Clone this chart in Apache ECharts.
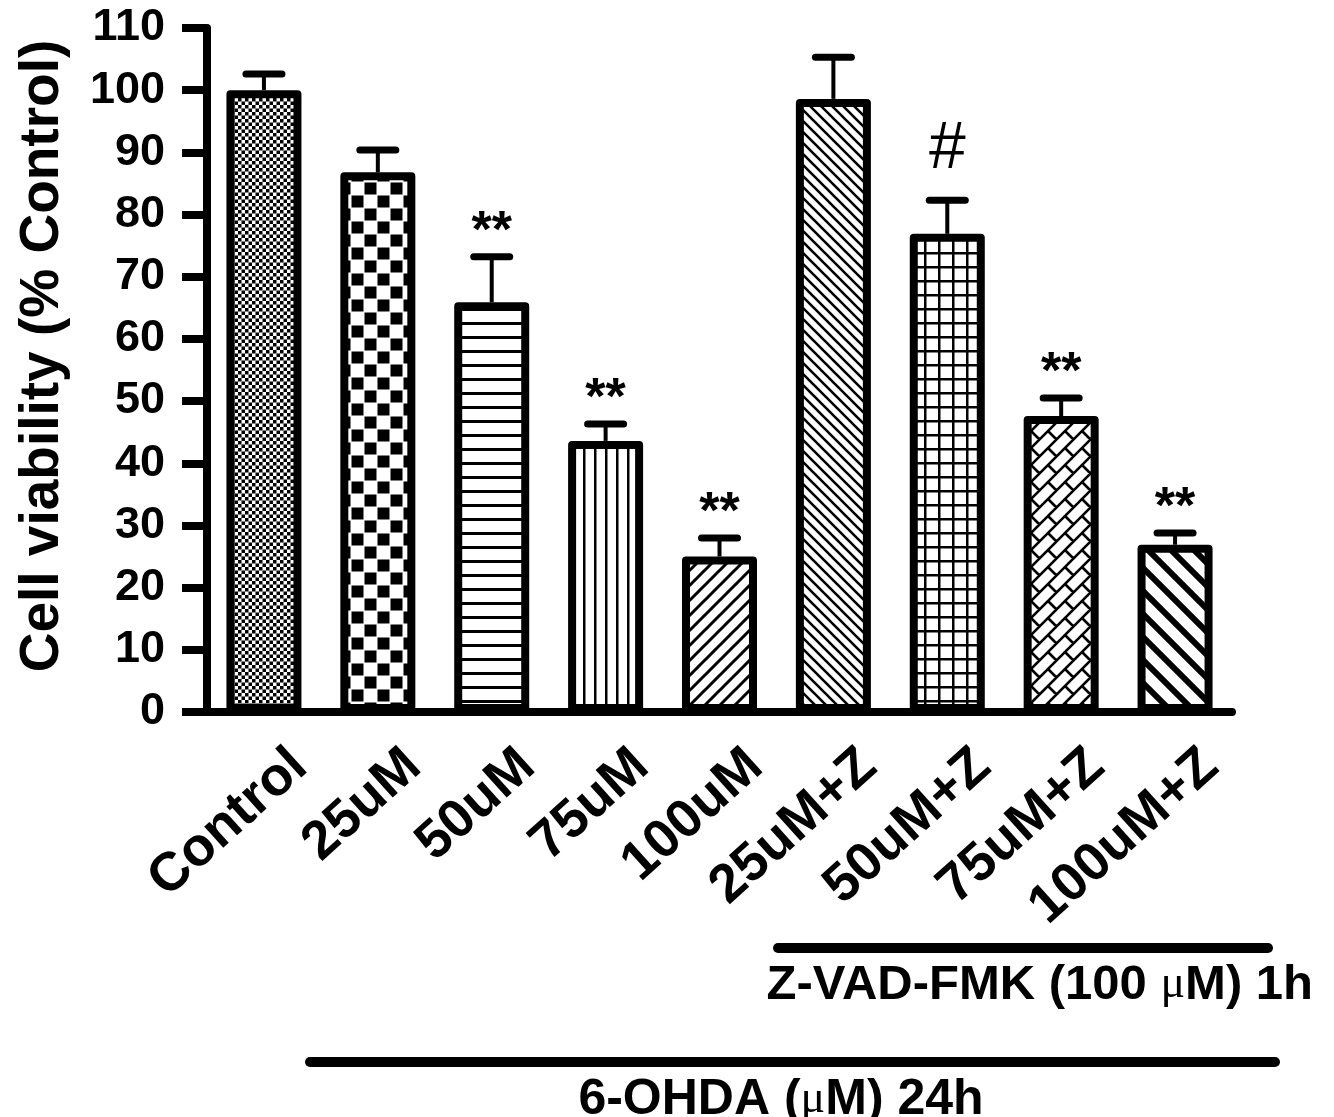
<!DOCTYPE html>
<html><head><meta charset="utf-8">
<script src="https://cdn.jsdelivr.net/npm/echarts@6/dist/echarts.min.js"></script>
<style>html,body{margin:0;padding:0;background:#fff}#chart{width:1334px;height:1117px}</style>
</head><body><div id="chart"></div>
<script>
// ---- data ----
const categories = ['Control', '25uM', '50uM', '75uM', '100uM', '25uM+Z', '50uM+Z', '75uM+Z', '100uM+Z'];
const means = [100, 86.8, 65.9, 43.6, 25.0, 98.6, 76.9, 47.6, 26.9];
const sem = [2.6, 3.6, 7.3, 2.7, 3.0, 6.7, 5.4, 2.9, 1.9];
const marks = ['', '', '**', '**', '**', '', '#', '**', '**'];
const yMin = 0, yMax = 110, yInterval = 10;
const yTitle = 'Cell viability (% Control)';
const zvadLabel = ['Z-VAD-FMK (100 ', 'μ', 'M) 1h'];
const ohdaLabel = ['6-OHDA (', 'μ', 'M) 24h'];

const FONT = "'Liberation Sans', Arial, Helvetica, sans-serif";

// ---- fill patterns ----
function tile(w, h, draw) {
  const c = document.createElement('canvas'); c.width = w; c.height = h;
  const g = c.getContext('2d');
  g.fillStyle = '#fff'; g.fillRect(0, 0, w, h);
  g.fillStyle = '#000'; g.strokeStyle = '#000';
  draw(g, w, h);
  return { image: c, repeat: 'repeat' };
}
function backDiag(g, T, lw) { // "\" lines
  g.lineWidth = lw; g.beginPath();
  for (let k = -2; k <= 2; k++) { g.moveTo(k * T - T, -T); g.lineTo(k * T + 2 * T, 2 * T); }
  g.stroke();
}
function fwdDiag(g, T, lw) { // "/" lines
  g.lineWidth = lw; g.beginPath();
  for (let k = -2; k <= 3; k++) { g.moveTo(k * T + T, -T); g.lineTo(k * T - 2 * T, 2 * T); }
  g.stroke();
}
const patterns = [
  tile(7, 7, g => { g.fillRect(0, 0, 3.5, 3.5); g.fillRect(3.5, 3.5, 3.5, 3.5); }),
  tile(26, 26, g => { g.fillRect(0.5, 0.5, 12, 12); g.fillRect(13.5, 13.5, 12, 12); }),
  tile(14, 14, g => { g.fillRect(0, 0, 14, 3); }),
  tile(11, 11, g => { g.fillRect(0, 0, 2.5, 11); }),
  tile(15, 15, g => fwdDiag(g, 15, 3)),
  tile(11, 11, g => backDiag(g, 11, 2.6)),
  tile(14, 14, g => { g.fillRect(0, 0, 2.5, 14); g.fillRect(0, 0, 14, 2.5); }),
  (function () {
    const W = 1334, H = 760, S = 17, J = 34;
    const c = document.createElement('canvas'); c.width = W; c.height = H;
    const g = c.getContext('2d');
    g.fillStyle = '#fff'; g.fillRect(0, 0, W, H);
    g.strokeStyle = '#000'; g.lineWidth = 2.6; g.beginPath();
    for (let n = 0; n * S <= W + H; n++) {
      const cc = n * S;
      g.moveTo(cc, 0); g.lineTo(cc - H, H);
      for (let d = -H - J + (n % 2) * J / 2; d <= W + J; d += J) {
        g.moveTo((cc + d) / 2, (cc - d) / 2);
        g.lineTo((cc + S + d) / 2, (cc + S - d) / 2);
      }
    }
    g.stroke();
    return { image: c, repeat: 'repeat' };
  })(),
  tile(23, 23, g => backDiag(g, 23, 6))
];

const chart = echarts.init(document.getElementById('chart'), null, { renderer: 'canvas' });
const blackText = { color: '#000', fontFamily: FONT, fontWeight: 'bold' };

chart.setOption({
  animation: false,
  backgroundColor: '#fff',
  grid: { left: 207, right: 102, top: 28, bottom: 405, containLabel: false },
  xAxis: {
    type: 'category',
    data: categories,
    axisLine: { lineStyle: { color: '#000', width: 8 } },
    axisTick: { alignWithLabel: true, length: 29, lineStyle: { color: '#000', width: 8 } },
    axisLabel: {
      interval: 0, rotate: 42, margin: 79, fontSize: 54, ...blackText,
      padding: [0, -48, 0, 0]
    }
  },
  yAxis: {
    type: 'value', min: yMin, max: yMax, interval: yInterval,
    name: yTitle, nameLocation: 'middle', nameRotate: 90, nameGap: 137,
    nameTextStyle: { fontSize: 55, ...blackText, padding: [0, 0, 0, 28] },
    axisLine: { show: true, lineStyle: { color: '#000', width: 8 } },
    axisTick: { show: true, length: 25, lineStyle: { color: '#000', width: 8 } },
    axisLabel: { margin: 42, fontSize: 45, ...blackText },
    splitLine: { show: false }
  },
  series: [
    {
      type: 'bar', barWidth: 75, z: 2,
      data: means.map((v, i) => ({ value: v, itemStyle: { color: patterns[i] } })),
      itemStyle: { borderColor: '#000', borderWidth: 8, borderJoin: 'round' }
    },
    {
      type: 'custom', z: 3,
      data: means.map((m, i) => [i, m, +(m + sem[i]).toFixed(2)]),
      encode: { x: 0, y: [1, 2] },
      renderItem(params, api) {
        const i = api.value(0), m = api.value(1), t = api.value(2);
        const p0 = api.coord([i, m]), p1 = api.coord([i, t]);
        const children = [
          { type: 'line', shape: { x1: p0[0], y1: p0[1], x2: p1[0], y2: p1[1] }, style: { stroke: '#000', lineWidth: 4 } },
          { type: 'line', shape: { x1: p1[0] - 18, y1: p1[1], x2: p1[0] + 18, y2: p1[1] }, style: { stroke: '#000', lineWidth: 7, lineCap: 'round' } }
        ];
        const mk = marks[params.dataIndex];
        if (mk === '#') {
          children.push({ type: 'text', x: p1[0], y: p1[1] - 50, style: { text: mk, fill: '#000', font: 'normal 66px ' + FONT, align: 'center', verticalAlign: 'middle' } });
        } else if (mk) {
          children.push({ type: 'text', x: p1[0], y: p1[1] - 24, style: { text: mk, fill: '#000', font: 'bold 52px ' + FONT, align: 'center', verticalAlign: 'middle' } });
        }
        return { type: 'group', children };
      }
    }
  ],
  graphic: [
    { type: 'line', shape: { x1: 778, y1: 948, x2: 1268, y2: 948 }, style: { stroke: '#000', lineWidth: 10, lineCap: 'round' } },
    { type: 'text', x: 1313, y: 985, style: {
        text: '{b|' + zvadLabel[0] + '}{m|' + zvadLabel[1] + '}{b|' + zvadLabel[2] + '}',
        align: 'right', verticalAlign: 'middle',
        rich: {
          b: { fontSize: 49, fontWeight: 'bold', fontFamily: FONT, fill: '#000', color: '#000' },
          m: { fontSize: 46, fontWeight: 'normal', fontFamily: "'Liberation Serif', 'Times New Roman', serif", fill: '#000', color: '#000' }
        } } },
    { type: 'line', shape: { x1: 310, y1: 1062, x2: 1275, y2: 1062 }, style: { stroke: '#000', lineWidth: 10, lineCap: 'round' } },
    { type: 'text', x: 781, y: 1100, style: {
        text: '{b|' + ohdaLabel[0] + '}{m|' + ohdaLabel[1] + '}{b|' + ohdaLabel[2] + '}',
        align: 'center', verticalAlign: 'middle',
        rich: {
          b: { fontSize: 50, fontWeight: 'bold', fontFamily: FONT, fill: '#000', color: '#000' },
          m: { fontSize: 46, fontWeight: 'normal', fontFamily: "'Liberation Serif', 'Times New Roman', serif", fill: '#000', color: '#000' }
        } } }
  ]
});
</script>
</body></html>
